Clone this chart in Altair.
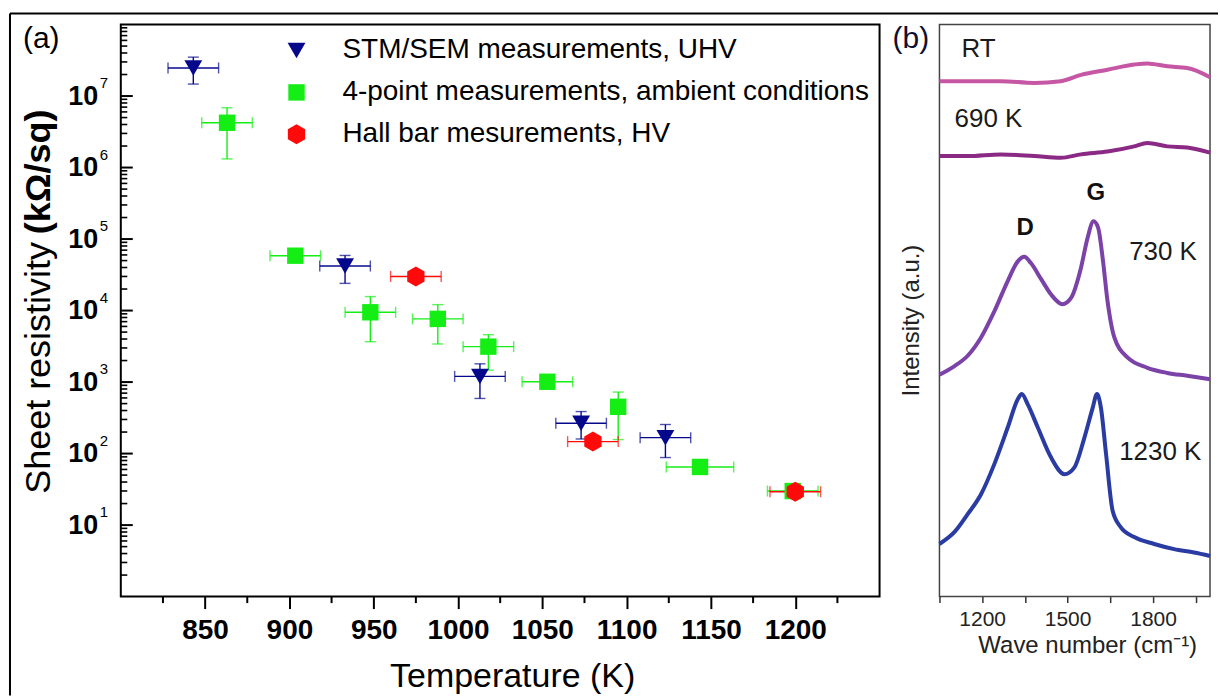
import altair as alt
import pandas as pd

FONT = "Liberation Sans"

# ---------------- (a) sheet resistivity vs. temperature ----------------
series_names = [
    "STM/SEM measurements, UHV",
    "4-point measurements, ambient conditions",
    "Hall bar mesurements, HV",
]
series_colors = ["#06088c", "#14ee14", "#ff0a0a"]
hexagon = "M0,-1.35L1.17,-0.675L1.17,0.675L0,1.35L-1.17,0.675L-1.17,-0.675Z"
series_shapes = ["triangle-down", "square", hexagon]
series_sizes = [320, 220, 250]

# STM/SEM, UHV
stm_T = [843, 933, 1013, 1073, 1123]
stm_R = [2.47e7, 4.2e4, 1.2e3, 266, 167]
stm_dT = [15, 15, 15, 15, 15]
stm_Rlo = [1.47e7, 2.4e4, 590, 160, 88]
stm_Rhi = [3.5e7, 5.9e4, 1.8e3, 387, 255]

# 4-point, ambient
fp_T = [863, 903.5, 948, 988, 1018, 1053, 1095, 1143.5, 1198.5]
fp_R = [4.23e6, 5.85e4, 9.46e3, 7.65e3, 3.13e3, 1.01e3, 451, 65, 29.9]
fp_dT = [15, 15, 15, 15, 15, 15, None, 20, 15]
fp_Rlo = [1.32e6, None, 3.67e3, 3.41e3, 1.47e3, None, 157, None, None]
fp_Rhi = [6.86e6, None, 1.57e4, 1.21e4, 4.6e3, None, 725, None, None]

# Hall bar, HV
hall_T = [975, 1080, 1200]
hall_R = [3.0e4, 147, 29.3]
hall_dT = [15, 15, 15]
hall_Rlo = [None, None, None]
hall_Rhi = [None, None, None]

x_major = [850, 900, 950, 1000, 1050, 1100, 1150, 1200]
x_minor = [825, 875, 925, 975, 1025, 1075, 1125, 1175, 1225]
decades = [1, 2, 3, 4, 5, 6, 7]
y_major = [10 ** d for d in decades]
y_minor = [k * 10 ** d for d in range(0, 8) for k in range(2, 10)]

rows = []
for name, T, R, dT, lo, hi in [
    (series_names[0], stm_T, stm_R, stm_dT, stm_Rlo, stm_Rhi),
    (series_names[1], fp_T, fp_R, fp_dT, fp_Rlo, fp_Rhi),
    (series_names[2], hall_T, hall_R, hall_dT, hall_Rlo, hall_Rhi),
]:
    for i in range(len(T)):
        rows.append({
            "series": name, "T": T[i], "R": R[i],
            "Tlo": None if dT[i] is None else T[i] - dT[i],
            "Thi": None if dT[i] is None else T[i] + dT[i],
            "Rlo": lo[i], "Rhi": hi[i],
        })
res = pd.DataFrame(rows)

xs = alt.Scale(domain=[800, 1250], nice=False, zero=False)
ys = alt.Scale(type="log", domain=[1, 1e8], nice=False)

legend = alt.Legend(
    orient="none", legendX=162, legendY=12, title=None, padding=0,
    labelFontSize=28, labelFont=FONT, labelColor="black", labelLimit=0,
    labelOffset=32, rowPadding=14, symbolSize=260, symbolStrokeWidth=0,
    symbolOpacity=1,
)

# one axis definition shared by every layer, so the merged axis stays intact
xaxis = alt.Axis(
    values=x_major, format="d", labelFontSize=28, labelFontWeight="bold",
    labelColor="black", labelPadding=8, tickSize=12, tickWidth=2, tickColor="black",
    domain=False, grid=False, title="Temperature (K)", titleFontSize=34,
    titleFontWeight="normal", titleColor="black", titleX=392, titleY=80,
    titleBaseline="middle",
)
yaxis = alt.Axis(
    values=y_major, labelExpr="'10'", labelFontSize=27, labelFontWeight="bold",
    labelColor="black", labelPadding=23, ticks=False, tickSize=0, domain=False,
    grid=False, title=None,
)

one = pd.DataFrame({"k": [0]})

# outer border of the figure
frame_left = alt.Chart(one).mark_rule(color="black", strokeWidth=2).encode(
    x=alt.value(-111), y=alt.value(-11), y2=alt.value(672))
frame_top = alt.Chart(one).mark_rule(color="black", strokeWidth=2).encode(
    x=alt.value(-111), x2=alt.value(1099), y=alt.value(-11))

# inward ticks on the log axis, outward minor ticks on the temperature axis
ytick_major = alt.Chart(pd.DataFrame({"R": y_major})).mark_rule(color="black", strokeWidth=2).encode(
    y=alt.Y("R:Q", scale=ys, axis=yaxis), x=alt.value(0), x2=alt.value(12))
ytick_minor = alt.Chart(pd.DataFrame({"R": y_minor})).mark_rule(color="black", strokeWidth=1.6).encode(
    y=alt.Y("R:Q", scale=ys, axis=yaxis), x=alt.value(0), x2=alt.value(6.5))
xtick_minor = alt.Chart(pd.DataFrame({"T": x_minor})).mark_rule(color="black", strokeWidth=2).encode(
    x=alt.X("T:Q", scale=xs, axis=xaxis), y=alt.value(573), y2=alt.value(579.5))

# error bars, one set of layers per series
err_layers = []
for name, colr in zip(series_names, series_colors):
    sub = alt.Chart(res).transform_filter(alt.datum.series == name)
    hx = sub.transform_filter("isValid(datum.Tlo)")
    vy = sub.transform_filter("isValid(datum.Rlo)")
    err_layers.append(hx.mark_rule(strokeWidth=1.4, color=colr).encode(
        x=alt.X("Tlo:Q", scale=xs, axis=xaxis), x2="Thi:Q",
        y=alt.Y("R:Q", scale=ys, axis=yaxis)))
    err_layers.append(hx.transform_fold(["Tlo", "Thi"], as_=["end", "Tcap"]).mark_tick(
        orient="vertical", size=11, thickness=1.4, color=colr).encode(
        x=alt.X("Tcap:Q", scale=xs, axis=xaxis), y=alt.Y("R:Q", scale=ys, axis=yaxis)))
    err_layers.append(vy.mark_rule(strokeWidth=1.4, color=colr).encode(
        x=alt.X("T:Q", scale=xs, axis=xaxis),
        y=alt.Y("Rlo:Q", scale=ys, axis=yaxis), y2="Rhi:Q"))
    err_layers.append(vy.transform_fold(["Rlo", "Rhi"], as_=["end", "Rcap"]).mark_tick(
        orient="horizontal", size=11, thickness=1.4, color=colr).encode(
        x=alt.X("T:Q", scale=xs, axis=xaxis), y=alt.Y("Rcap:Q", scale=ys, axis=yaxis)))

points = alt.Chart(res).mark_point(filled=True, opacity=1).encode(
    x=alt.X("T:Q", scale=xs, axis=xaxis),
    y=alt.Y("R:Q", scale=ys, axis=yaxis),
    color=alt.Color("series:N", scale=alt.Scale(domain=series_names, range=series_colors), legend=legend),
    shape=alt.Shape("series:N", scale=alt.Scale(domain=series_names, range=series_shapes), legend=legend),
    size=alt.Size("series:N", scale=alt.Scale(domain=series_names, range=series_sizes), legend=None),
)

exponents = alt.Chart(pd.DataFrame({"R": y_major, "e": [str(d) for d in decades]})).mark_text(
    align="left", baseline="middle", fontSize=15, dy=-13, color="black").encode(
    y=alt.Y("R:Q", scale=ys, axis=yaxis), x=alt.value(-21), text="e:N")

label_a = alt.Chart(one).mark_text(align="left", baseline="middle", fontSize=30, color="black").encode(
    x=alt.value(-98), y=alt.value(15), text=alt.value("(a)"))
ytitle1 = alt.Chart(one).mark_text(angle=270, align="left", baseline="middle", fontSize=36, color="black").encode(
    x=alt.value(-82), y=alt.value(470), text=alt.value("Sheet resistivity"))
ytitle2 = alt.Chart(one).mark_text(angle=270, align="left", baseline="middle", fontSize=36,
                                    fontWeight="bold", color="black").encode(
    x=alt.value(-82), y=alt.value(210), text=alt.value("(kΩ/sq)"))

panel_a = alt.layer(
    frame_left, frame_top, ytick_major, ytick_minor, xtick_minor,
    *err_layers, points, exponents, label_a, ytitle1, ytitle2,
).properties(width=760, height=573, view=alt.ViewBackground(stroke="black", strokeWidth=2))

# ---------------- (b) Raman spectra ----------------
spec_names = ["RT", "690 K", "730 K", "1230 K"]
spec_colors = ["#c557a4", "#8a2a84", "#7b42a8", "#2a3ca2"]

rt_wn = [1050, 1149, 1266, 1383, 1476, 1547, 1640, 1734, 1780, 1850, 1920, 2000]
rt_I = [90.1, 90.1, 90.1, 89.8, 90.1, 91.2, 92.1, 93.0, 93.2, 92.7, 92.4, 90.8]

k690_wn = [1050, 1149, 1266, 1383, 1476, 1547, 1640, 1734, 1780, 1850, 1920, 2000]
k690_I = [77.0, 77.0, 77.3, 77.0, 76.7, 77.3, 77.8, 78.7, 79.3, 78.7, 78.5, 77.6]

k730_wn = [1050, 1103, 1149, 1196, 1243, 1290, 1325, 1348, 1371, 1407, 1442, 1482, 1512,
           1547, 1570, 1591, 1607, 1623, 1640, 1664, 1710, 1780, 1850, 1920, 2000]
k730_I = [38.8, 40.3, 42.1, 45.3, 49.9, 55.2, 58.6, 59.4, 58.3, 55.5, 52.8, 51.1, 52.2,
          57.5, 62.7, 65.6, 64.5, 59.2, 51.7, 45.3, 41.8, 40.0, 39.1, 38.6, 38.0]

k1230_wn = [1050, 1103, 1149, 1196, 1243, 1290, 1325, 1339, 1360, 1395, 1442, 1489, 1524,
            1559, 1588, 1603, 1617, 1635, 1658, 1687, 1734, 1804, 1874, 1944, 2000]
k1230_I = [9.2, 11.3, 14.4, 17.9, 23.2, 29.6, 34.5, 35.4, 33.6, 29.6, 24.3, 21.4, 22.6,
           27.8, 33.0, 35.4, 33.0, 24.9, 15.0, 12.1, 10.4, 9.2, 8.3, 7.7, 7.1]

spec_rows = []
for name, wn, inten in [("RT", rt_wn, rt_I), ("690 K", k690_wn, k690_I),
                        ("730 K", k730_wn, k730_I), ("1230 K", k1230_wn, k1230_I)]:
    for w, v in zip(wn, inten):
        spec_rows.append({"spec": name, "wn": w, "I": v})
spec = pd.DataFrame(spec_rows)

temp_labels = pd.DataFrame({
    "text": ["RT", "690 K", "730 K", "1230 K"],
    "wn": [1127, 1103, 1716, 1681],
    "I": [95.7, 83.4, 60.3, 25.3],
})
band_labels = pd.DataFrame({
    "text": ["D", "G"],
    "wn": [1351, 1599],
    "I": [64.5, 70.6],
})

b_ticks = [1050, 1200, 1350, 1500, 1650, 1800, 1950]
b_labeled = [1200, 1500, 1800]

bxs = alt.Scale(domain=[1050, 2000], nice=False, zero=False)
bys = alt.Scale(domain=[0, 100], nice=False, zero=False)

bx_axis = alt.Axis(
    values=b_ticks, format="d",
    labelExpr="indexof(" + str(b_labeled) + ", datum.value) >= 0 ? datum.label : ''",
    labelFontSize=21, labelColor="#222", labelPadding=6, tickSize=6, tickWidth=1.5,
    tickColor="#333", domain=False, grid=False, title="Wave number  (cm⁻¹)", titleFontSize=24,
    titleFontWeight="normal", titleColor="#222", titleX=148, titleY=49, titleBaseline="middle",
)
by_axis = alt.Axis(
    labels=False, ticks=False, domain=False, grid=False, title="Intensity (a.u.)", titleFontSize=24,
    titleFontWeight="normal", titleColor="#222", titleX=-28, titleY=296, titleBaseline="middle",
)

lines = alt.Chart(spec).mark_line(strokeWidth=4, interpolate="monotone").encode(
    x=alt.X("wn:Q", scale=bxs, axis=bx_axis),
    y=alt.Y("I:Q", scale=bys, axis=by_axis),
    stroke=alt.Stroke("spec:N", scale=alt.Scale(domain=spec_names, range=spec_colors), legend=None),
)
tlabels = alt.Chart(temp_labels).mark_text(align="left", baseline="middle", fontSize=26, color="#1a1a1a").encode(
    x=alt.X("wn:Q", scale=bxs, axis=bx_axis), y=alt.Y("I:Q", scale=bys, axis=by_axis), text="text:N")
blabels = alt.Chart(band_labels).mark_text(align="center", baseline="middle", fontSize=24,
                                           fontWeight="bold", color="#111").encode(
    x=alt.X("wn:Q", scale=bxs, axis=bx_axis), y=alt.Y("I:Q", scale=bys, axis=by_axis), text="text:N")
label_b = alt.Chart(one).mark_text(align="left", baseline="middle", fontSize=30, color="#101030").encode(
    x=alt.value(-47), y=alt.value(15), text=alt.value("(b)"))

panel_b = alt.layer(lines, tlabels, blabels, label_b).properties(
    width=271, height=573, view=alt.ViewBackground(stroke="#444", strokeWidth=1.5))

chart = alt.hconcat(panel_a, panel_b, spacing=60, bounds="flush").properties(
    padding={"left": 8, "top": 11, "right": 0, "bottom": 0}, background="white",
).configure_axis(grid=False, labelFont=FONT, titleFont=FONT).configure_text(font=FONT)

chart.save("out.html", embed_options={"renderer": "svg", "actions": False})
